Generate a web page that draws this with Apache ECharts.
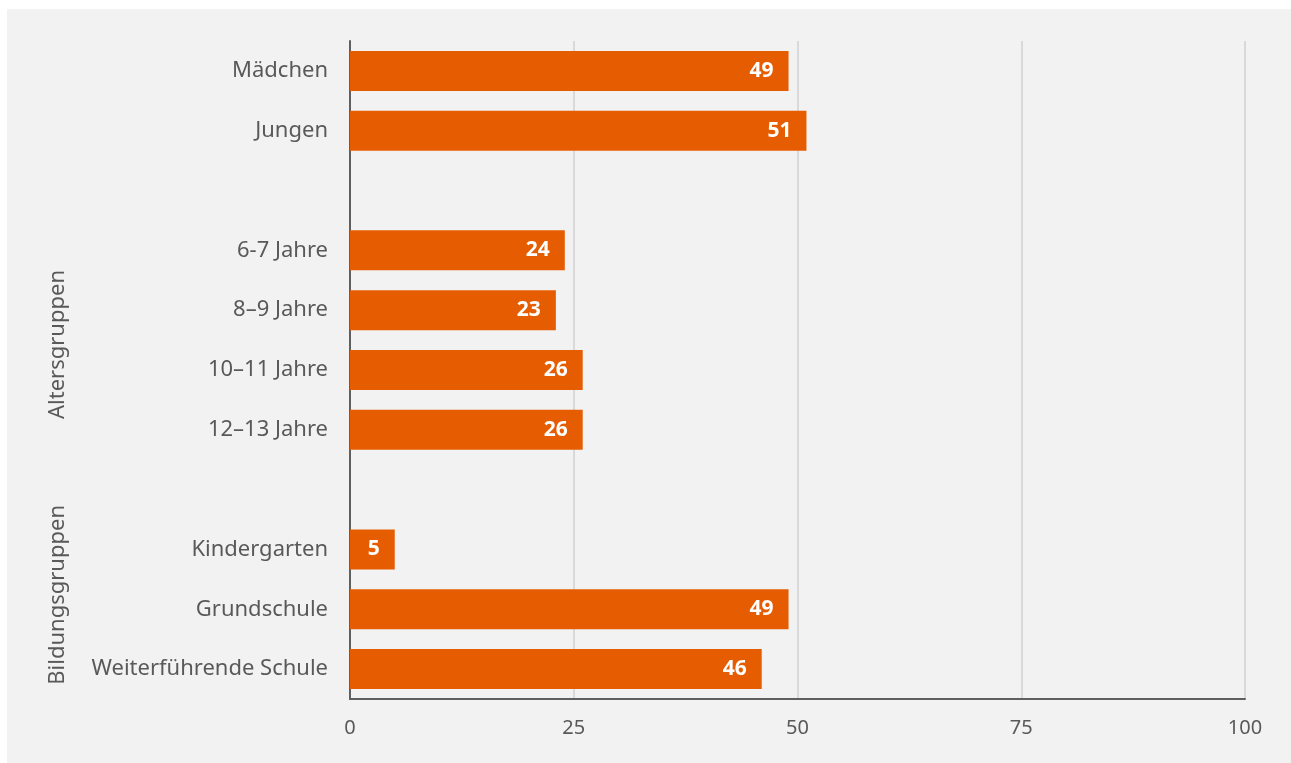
<!DOCTYPE html>
<html>
<head>
<meta charset="utf-8">
<script src="https://cdn.jsdelivr.net/npm/echarts@6/dist/echarts.min.js"></script>
<style>
html,body{margin:0;padding:0;background:#ffffff;}
#wrap{position:absolute;left:7px;top:9px;right:0;bottom:0;background:#f2f2f2;}
#chart{width:100%;height:100%;}
</style>
</head>
<body>
<div id="wrap"><div id="chart"></div></div>
<script>
const categories = ['Mädchen','Jungen',' ','6-7 Jahre','8–9 Jahre','10–11 Jahre','12–13 Jahre','  ','Kindergarten','Grundschule','Weiterführende Schule'];
const values = [49, 51, null, 24, 23, 26, 26, null, 5, 49, 46];
const xTicks = [0, 25, 50, 75, 100];
const groupLabels = ['Altersgruppen', 'Bildungsgruppen'];

const chart = echarts.init(document.getElementById('chart'), null, {renderer:'canvas'});
const fontFam = '"Noto Sans", "Open Sans", sans-serif';
chart.setOption({
  backgroundColor: '#f2f2f2',
  animation: false,
  grid: {left: 343, right: 46, top: 32, bottom: 64, containLabel: false},
  xAxis: {
    type: 'value', min: xTicks[0], max: xTicks[xTicks.length-1], interval: 25,
    axisLine: {show: true, lineStyle: {color: '#5f5f5f', width: 2}},
    axisTick: {show: false},
    splitLine: {show: true, lineStyle: {color: '#d9d9d9', width: 2}},
    axisLabel: {color: '#595959', fontSize: 20, fontFamily: fontFam, margin: 19}
  },
  yAxis: {
    type: 'category', inverse: true, data: categories,
    axisLine: {show: true, lineStyle: {color: '#5f5f5f', width: 2}},
    axisTick: {show: false},
    axisLabel: {color: '#595959', fontSize: 22, fontFamily: fontFam, margin: 22, padding: [4, 0, 0, 0]}
  },
  series: [{
    type: 'bar', data: values, barWidth: 40,
    itemStyle: {color: '#e65c00'},
    label: {show: true, position: 'insideRight', distance: 15, color: '#ffffff', fontWeight: 'bold', fontSize: 21, fontFamily: fontFam, padding: [4, 0, 0, 0]}
  }],
  graphic: [
    {type: 'text', left: 40, top: 261, rotation: Math.PI/2, style: {text: groupLabels[0], fill: '#595959', font: '22px ' + fontFam}},
    {type: 'text', left: 40, top: 496, rotation: Math.PI/2, style: {text: groupLabels[1], fill: '#595959', font: '22px ' + fontFam}}
  ]
});
</script>
</body>
</html>
